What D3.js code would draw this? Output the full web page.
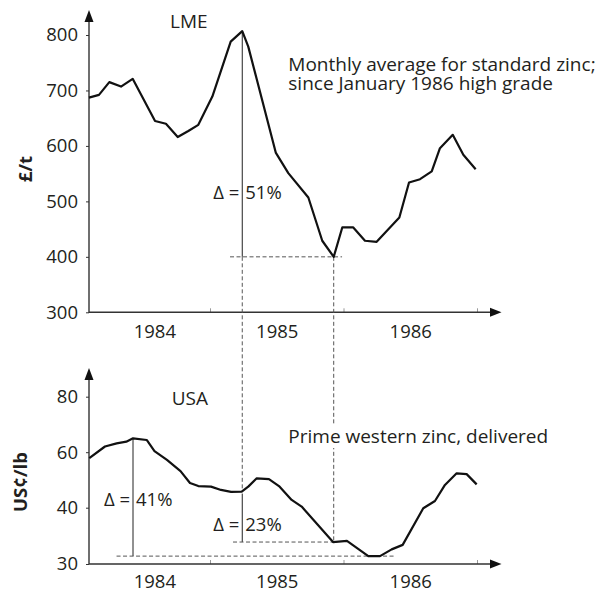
<!DOCTYPE html>
<html>
<head>
  <meta charset="utf-8">
  <title>Zinc prices 1984-1986</title>
  <script src="https://d3js.org/d3.v7.min.js"></script>
  <style>
    body { margin: 0; background: #fff; }
    text { font-family: "Open Sans", sans-serif; font-size: 18.5px; fill: #231f20; }
    .note { font-size: 19px; }
    .unit { font-weight: bold; }
    .price { fill: none; stroke: #111; stroke-width: 2.2; stroke-linejoin: round; }
    .dash { stroke: #555; stroke-width: 1; stroke-dasharray: 4,2.5; fill: none; }
    .solid { stroke: #222; stroke-width: 1; }
    .axis path, .axis line { stroke: #333; }
    .xtick line { stroke: #999; }
  </style>
</head>
<body>
<svg width="602" height="590"></svg>
<script>
// months since Jan 1984, prices
var lmeMonth = [1.12, 2.02, 2.95, 4.0, 5.05, 7.06, 8.04, 9.1, 10.05, 10.95, 12.21, 13.86, 14.9, 15.44,
  17.91, 19.04, 20.84, 22.09, 23.12, 23.89, 24.88, 25.93, 26.98, 29.02, 29.89, 30.88, 31.93, 32.67,
  33.82, 34.77, 35.88];
var lmeValue = [687, 692, 715, 707, 721, 645, 640, 616, 627, 638, 689, 788, 807, 779,
  588, 551, 507, 429, 400, 453, 453, 429, 427, 471, 534, 540, 554, 596,
  620, 584, 558];

var usaMonth = [1.15, 2.56, 3.61, 4.48, 5.08, 6.31, 7.01, 8.13, 9.35, 10.2, 10.95, 12.09, 12.99, 13.89,
  14.85, 15.44, 16.2, 17.3, 18.2, 19.34, 20.24, 23.06, 24.31, 26.23, 27.28, 28.33, 29.32, 31.17,
  32.22, 33.12, 34.17, 35.07, 35.97];
var usaValue = [57.9, 62.05, 63.2, 63.8, 65.0, 64.4, 60.4, 57.2, 53.2, 48.9, 47.8, 47.6, 46.4, 45.7,
  45.8, 47.6, 50.6, 50.3, 47.8, 42.8, 40.4, 33.9, 34.1, 31.4, 31.4, 32.6, 33.4, 39.9,
  42.4, 48.2, 52.4, 52.1, 48.4];

var years = ["1984", "1985", "1986"];
var yearLabelMonth = [7, 18, 30];
var yearTickMonth = [12, 24, 36];
var lmeTicks = [300, 400, 500, 600, 700, 800];
var usaTicks = [30, 40, 60, 80];

var svg = d3.select("svg");
var x = d3.scaleLinear().domain([0, 36]).range([76.5, 477]);
var yTop = d3.scaleLinear().domain([300, 800]).range([312.3, 35]);
var yBot = d3.scaleLinear().domain([30, 40, 80]).range([564, 507.7, 396.7]);
var x0 = 89;

function frame(y, ticks, tip, pad) {
  var base = y.range()[0];
  svg.append("g").attr("class", "axis")
    .attr("transform", "translate(" + x0 + ",0)")
    .call(d3.axisLeft(y).tickValues(ticks).tickSize(3).tickPadding(8).tickFormat(d3.format("d")))
    .call(function(g) { g.select(".domain").remove(); });
  svg.append("g").attr("class", "xtick")
    .attr("transform", "translate(0," + base + ")")
    .call(d3.axisBottom(x).tickValues(yearTickMonth).tickSize(-4).tickFormat(""))
    .call(function(g) { g.select(".domain").remove(); });
  svg.append("g")
    .attr("transform", "translate(0," + base + ")")
    .call(d3.axisBottom(x).tickValues(yearLabelMonth).tickSize(0).tickPadding(pad)
      .tickFormat(function(d, i) { return years[i]; }))
    .call(function(g) { g.select(".domain").remove(); });
  // axis lines with arrow heads
  svg.append("path").attr("stroke", "#333").attr("stroke-width", 1.4).attr("fill", "none")
    .attr("d", "M" + x0 + "," + (tip + 10) + "V" + base + "H490");
  svg.append("path").attr("fill", "#111")
    .attr("d", "M" + x0 + "," + tip + "L" + (x0 - 4.5) + "," + (tip + 12) + "L" + (x0 + 4.5) + "," + (tip + 12) + "Z");
  svg.append("path").attr("fill", "#111")
    .attr("d", "M501.5," + base + "L490," + (base - 4.5) + "L490," + (base + 4.5) + "Z");
}

frame(yTop, lmeTicks, 10, 12.6);
frame(yBot, usaTicks, 368, 10.6);

// reference lines
var pk = 12, lo = 18, upk = 4;
var usaAtPk = 14, usaAtLo = 21, usaMin = 23;
function seg(cls, xa, ya, xb, yb) {
  svg.append("line").attr("class", cls)
    .attr("x1", xa).attr("y1", ya).attr("x2", xb).attr("y2", yb);
}
// LME
seg("solid", x(lmeMonth[pk]), yTop(lmeValue[pk]), x(lmeMonth[pk]), yTop(lmeValue[lo]));
seg("dash", x(13.8), yTop(lmeValue[lo]), x(23.87), yTop(lmeValue[lo]));
seg("dash", x(lmeMonth[pk]), yTop(lmeValue[lo]), x(lmeMonth[pk]), yBot(usaValue[usaAtPk]));
seg("dash", x(lmeMonth[lo]), yTop(lmeValue[lo]), x(lmeMonth[lo]), yBot(usaValue[usaAtLo]));
// USA
seg("solid", x(lmeMonth[pk]), yBot(usaValue[usaAtPk]) + 2, x(lmeMonth[pk]), yBot(usaValue[usaAtLo]));
seg("dash", x(14.07), yBot(usaValue[usaAtLo]), x(usaMonth[usaAtLo]), yBot(usaValue[usaAtLo]));
seg("solid", x(usaMonth[upk]), yBot(usaValue[upk]), x(usaMonth[upk]), yBot(usaValue[usaMin]));
seg("dash", x(3.6), yBot(usaValue[usaMin]), x(28.5), yBot(usaValue[usaMin]));

// price lines
var lmeLine = d3.line().x(function(d, i) { return x(lmeMonth[i]); }).y(function(d) { return yTop(d); });
var usaLine = d3.line().x(function(d, i) { return x(usaMonth[i]); }).y(function(d) { return yBot(d); });
svg.append("path").attr("class", "price").attr("d", lmeLine(lmeValue));
svg.append("path").attr("class", "price").attr("d", usaLine(usaValue));

// texts
function txt(s, tx, ty, anchor) {
  return svg.append("text").attr("x", tx).attr("y", ty)
    .attr("text-anchor", anchor || "start").text(s);
}
txt("LME", 170, 28.3).attr("class", "note");
txt("USA", 171.7, 405).attr("class", "note");
txt("Monthly average for standard zinc;", 288.3, 70.8).attr("class", "note");
txt("since January 1986 high grade", 288.3, 90.3).attr("class", "note");
var pw = txt("Prime western zinc, delivered", 288.3, 443).attr("class", "note");
var bb = pw.node().getBBox();
svg.insert("rect", function() { return pw.node(); })
  .attr("x", bb.x - 2).attr("y", bb.y + 1).attr("width", bb.width + 4).attr("height", bb.height - 2)
  .attr("fill", "#fff");

function delta(xm, ty, pct) {
  txt("\u0394 =", x(xm) - 3, ty, "end");
  txt(pct, x(xm) + 3, ty, "start");
}
delta(lmeMonth[pk], 199, "51%");
delta(usaMonth[upk], 506, "41%");
delta(lmeMonth[pk], 531, "23%");

svg.append("text").attr("class", "unit")
  .attr("transform", "translate(32,169) rotate(-90)")
  .attr("text-anchor", "middle").text("£/t");
svg.append("text").attr("class", "unit")
  .attr("transform", "translate(26.5,482) rotate(-90)")
  .attr("text-anchor", "middle").text("US¢/lb");
</script>
</body>
</html>
